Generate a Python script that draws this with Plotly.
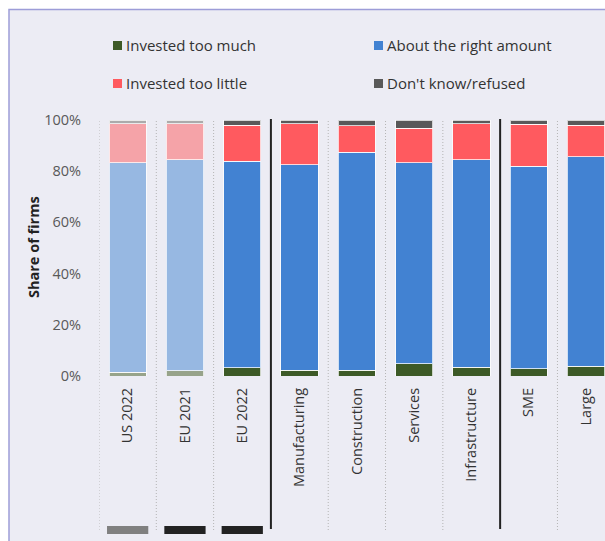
import plotly.graph_objects as go

categories = ["US 2022", "EU 2021", "EU 2022", "Manufacturing", "Construction",
              "Services", "Infrastructure", "SME", "Large"]
too_much =    [1.5, 2.1, 3.3, 2.3, 2.3, 4.7, 3.5, 2.9, 3.9]
right_amt =   [81.8, 82.4, 80.5, 80.2, 85.2, 78.7, 81.0, 79.1, 81.7]
too_little =  [15.3, 14.1, 14.2, 16.1, 10.2, 13.3, 14.1, 16.3, 12.4]
dont_know =   [1.4, 1.4, 2.0, 1.4, 2.3, 3.3, 1.4, 1.7, 2.0]
faded = [True, True, False, False, False, False, False, False, False]

series_names = ["Invested too much", "About the right amount", "Invested too little", "Don't know/refused"]
series_vals = [too_much, right_amt, too_little, dont_know]
colors = ["#3D5A27", "#4282D2", "#FF5A5F", "#595959"]
faded_colors = ["#97A38A", "#97B8E2", "#F5A3A8", "#ABABAB"]

sep_positions = [-0.5, 0.5, 1.5, 2.5, 3.5, 4.5, 5.5, 6.5, 7.5]
sep_solid = [False, False, False, True, False, False, False, True, False]
bottom_marks = [("US 2022", "#808080"), ("EU 2021", "#222222"), ("EU 2022", "#222222")]

FONT = "Open Sans"
W, H = 605, 541
L, R, T, B = 99, 0, 120, 165
PW, PH = W - L - R, H - T - B

def px(xp):
    return (xp - L) / PW

def py(yp):
    return (H - B - yp) / PH

fig = go.Figure()
for name, vals, c, fc in zip(series_names, series_vals, colors, faded_colors):
    fig.add_trace(go.Bar(
        x=categories, y=[v / 100 for v in vals], name=name,
        marker=dict(color=[fc if f else c for f in faded],
                    line=dict(color="rgba(255,255,255,0.75)", width=1)),
        width=0.65, showlegend=False,
        hovertemplate="%{x}: %{y:.1%}<extra>" + name + "</extra>"))

shapes = []
shapes.append(dict(type="rect", xref="paper", yref="paper",
                   x0=px(9), x1=px(640), y0=py(600), y1=py(9.5),
                   fillcolor="#ECECF4", line=dict(color="#9D9DD8", width=1.5), layer="below"))
for xs, solid in zip(sep_positions, sep_solid):
    if solid:
        shapes.append(dict(type="line", xref="x", yref="paper", x0=xs, x1=xs,
                           y0=py(529), y1=py(119), line=dict(color="#222222", width=2)))
    else:
        shapes.append(dict(type="line", xref="x", yref="paper", x0=xs, x1=xs,
                           y0=py(530), y1=py(119), line=dict(color="#B4B4B4", width=1, dash="1px,2px")))
for cat, col in bottom_marks:
    i = categories.index(cat)
    shapes.append(dict(type="rect", xref="x", yref="paper", x0=i - 0.36, x1=i + 0.36,
                       y0=py(534), y1=py(526), fillcolor=col, line=dict(width=0)))

annotations = []
legend_pos = [(113, 45), (374, 45), (113, 83), (374, 83)]
for (lx, ly), name, c in zip(legend_pos, series_names, colors):
    shapes.append(dict(type="rect", xref="paper", yref="paper",
                       x0=px(lx), x1=px(lx + 9), y0=py(ly + 5), y1=py(ly - 4),
                       fillcolor=c, line=dict(width=0)))
    annotations.append(dict(xref="paper", yref="paper", x=px(lx + 11), y=py(ly),
                            xanchor="left", yanchor="middle", showarrow=False, text=name,
                            font=dict(family=FONT, size=15, color="#333333")))
annotations.append(dict(xref="paper", yref="paper", x=px(33), y=py(247), textangle=-90,
                        xanchor="center", yanchor="middle", showarrow=False,
                        text="<b>Share of firms</b>",
                        font=dict(family=FONT, size=14.5, color="#222222")))

fig.update_layout(
    width=W, height=H, margin=dict(l=L, r=R, t=T, b=B, pad=0),
    barmode="stack", paper_bgcolor="white", plot_bgcolor="rgba(0,0,0,0)",
    shapes=shapes, annotations=annotations,
    font=dict(family=FONT),
    xaxis=dict(type="category", range=[-0.5, 8.33], tickangle=-90, showgrid=False,
               showline=False, zeroline=False, ticks="", ticklabelstandoff=8,
               tickfont=dict(family=FONT, size=14.5, color="#333333")),
    yaxis=dict(range=[0, 1], tickformat=".0%", dtick=0.2, showgrid=False, zeroline=False,
               showline=False, ticks="", ticklabelstandoff=17,
               tickfont=dict(family=FONT, size=14.5, color="#595959")),
)
fig.write_html("out.html", config={"displayModeBar": False},
               post_script="document.body.style.margin='0';document.body.style.overflow='hidden';")
